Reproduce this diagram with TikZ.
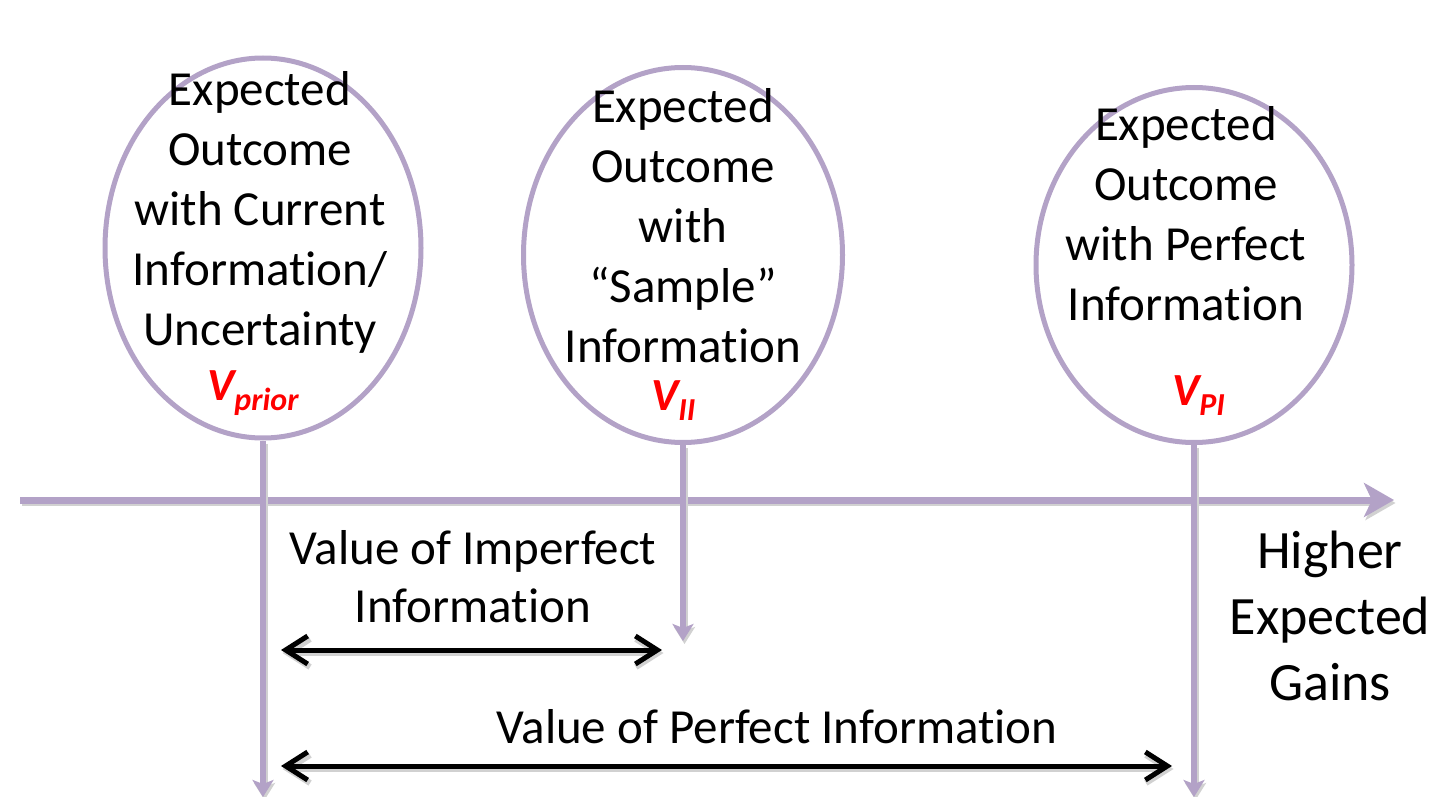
\documentclass[tikz,border=0pt]{standalone}
\usepackage{fontspec}
\setmainfont{Carlito}[Ligatures=CommonOff]
\usetikzlibrary{arrows.meta,shapes.geometric}
\definecolor{lav}{HTML}{B3A2C7}
\definecolor{vred}{HTML}{FF0000}
% value symbol with a lowered subscript
\newcommand\valsym[1]{V\raisebox{-10pt}{\fontsize{32}{32}\selectfont #1}}
\begin{document}
\begin{tikzpicture}[x=1pt,y=-1pt,
  shade line/.style={preaction={draw=black!18, line width=6pt,
      transform canvas={shift={(1.5pt,-3pt)}}}},
  bubble/.style={draw=lav, line width=5pt, ellipse, inner sep=0pt},
  stem/.style={draw=lav, line width=6pt, shade line,
      -{Stealth[length=17pt,width=21pt,inset=4pt]}},
  axis/.style={draw=lav, line width=7pt, shade line,
      -{Stealth[length=30pt,width=34pt,inset=8pt]}},
  span/.style={draw=black, line width=5pt, shade line,
      {Straight Barb[length=22pt,width=28pt]}-{Straight Barb[length=22pt,width=28pt]}},
  etext/.style={align=center, anchor=base, inner sep=0pt,
      font=\fontsize{49}{60}\selectfont},
  ltext/.style={align=center, anchor=base, inner sep=0pt,
      font=\fontsize{49}{58}\selectfont},
  gtext/.style={align=center, anchor=base, inner sep=0pt,
      font=\fontsize{54}{66}\selectfont},
  vlab/.style={anchor=base west, inner sep=0pt, text=vred,
      font=\fontsize{46}{46}\selectfont\bfseries\itshape}
]
\useasboundingbox (0,0) rectangle (1436,797);

% horizontal scale of expected gains
\coordinate (axL) at (20,500);
\coordinate (axR) at (1394,500);
\draw[axis] (axL) -- (axR);

% the three outcome bubbles
\node[bubble, minimum width=316pt, minimum height=380pt] (e1) at (263,248) {};
\node[bubble, minimum width=319pt, minimum height=375pt] (e2) at (683,255) {};
\node[bubble, minimum width=316pt, minimum height=355pt] (e3) at (1194,265) {};

% bubble texts, placed by the baseline of their last line
\node[etext] (t1) at (260,345) {Expected\\Outcome\\with Current\\Information/\\Uncertainty};
\node[etext] (t2) at (683,362) {Expected\\Outcome\\with\\“Sample”\\Information};
\node[etext] (t3) at (1186,320) {Expected\\Outcome\\with Perfect\\Information};

\node[vlab] (v1) at (207,400) {\valsym{prior}};
\node[vlab] (v2) at (651,410) {\valsym{II}};
\node[vlab] (v3) at (1172,405) {\valsym{PI}};

% drop lines from each bubble
\coordinate (s1) at (263,797);
\coordinate (s2) at (683,641);
\coordinate (s3) at (1194,797);
\draw[stem] (e1.south) -- (s1);
\draw[stem] (e2.south) -- (s2);
\draw[stem] (e3.south) -- (s3);

% value spans
\coordinate (a1) at (281,650);
\coordinate (b1) at (662,650);
\coordinate (a2) at (281,766);
\coordinate (b2) at (1172,766);
\draw[span] (a1) -- (b1);
\draw[span] (a2) -- (b2);

\node[ltext] (l1) at (473,622) {Value of Imperfect\\Information};
\node[ltext] (l2) at (777,743) {Value of Perfect Information};
\node[gtext] (g) at (1330,700) {Higher\\Expected\\Gains};
\end{tikzpicture}
\end{document}
